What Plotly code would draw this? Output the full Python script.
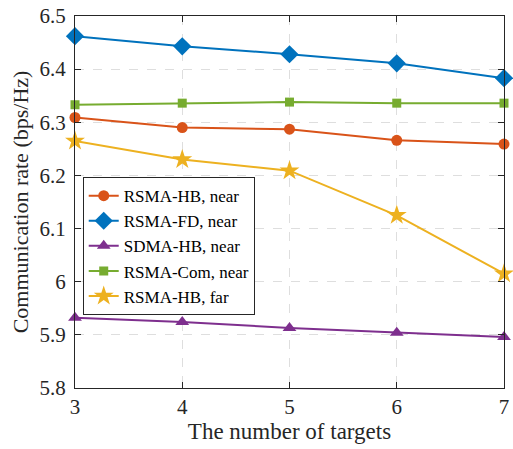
import plotly.graph_objects as go

targets = [3, 4, 5, 6, 7]
rsma_hb_near = [6.309, 6.290, 6.287, 6.266, 6.259]
rsma_fd_near = [6.462, 6.443, 6.428, 6.411, 6.383]
sdma_hb_near = [5.932, 5.924, 5.913, 5.904, 5.896]
rsma_com_near = [6.333, 6.336, 6.338, 6.336, 6.336]
rsma_hb_far = [6.265, 6.230, 6.209, 6.125, 6.015]

y_tickvals = [5.8, 5.9, 6.0, 6.1, 6.2, 6.3, 6.4, 6.5]
y_ticktext = ["5.8", "5.9", "6", "6.1", "6.2", "6.3", "6.4", "6.5"]

series = [
    ("RSMA-HB, near", rsma_hb_near, "#D95319", "circle", 11),
    ("RSMA-FD, near", rsma_fd_near, "#0072BD", "diamond", 14),
    ("SDMA-HB, near", sdma_hb_near, "#7E2F8E", "triangle-up", 12),
    ("RSMA-Com, near", rsma_com_near, "#77AC30", "square", 9),
    ("RSMA-HB, far", rsma_hb_far, "#EDB120", "star", 15),
]

fig = go.Figure()
for name, vals, color, sym, size in series:
    fig.add_trace(go.Scatter(
        x=targets, y=vals, name=name, mode="lines+markers",
        line=dict(color=color, width=2),
        marker=dict(symbol=sym, size=size, color=color, line=dict(width=0)),
        cliponaxis=False,
    ))

font_family = "Liberation Serif, Times New Roman, serif"
axis_common = dict(
    showline=True, linecolor="#262626", linewidth=1.3, mirror="ticks",
    ticks="inside", ticklen=6, tickcolor="#262626",
    showgrid=True, gridcolor="#DEDEDE", griddash="dash", gridwidth=1,
    zeroline=False,
    tickfont=dict(family=font_family, size=21, color="#262626"),
    ticklabeloverflow="allow",
)

fig.update_layout(
    width=513, height=449,
    margin=dict(l=75, r=4, t=16, b=61),
    paper_bgcolor="white", plot_bgcolor="white",
    font=dict(family=font_family, color="#262626"),
    xaxis=dict(axis_common, range=[3, 7], tickvals=targets,
               title=dict(text="The number of targets", font=dict(size=23, family=font_family, color="#262626"), standoff=2)),
    yaxis=dict(axis_common, range=[5.8, 6.5], tickvals=y_tickvals, ticktext=y_ticktext,
               ticklabelstandoff=4,
               title=dict(text="Communication rate (bps/Hz)", font=dict(size=22, family=font_family, color="#262626"), standoff=4)),
    legend=dict(
        x=0.018, y=0.567, xanchor="left", yanchor="top",
        bgcolor="white", bordercolor="#262626", borderwidth=1,
        font=dict(family=font_family, size=17, color="#000000"),
        tracegroupgap=0, itemwidth=30,
    ),
    showlegend=True,
)

fig.write_html("out.html")
